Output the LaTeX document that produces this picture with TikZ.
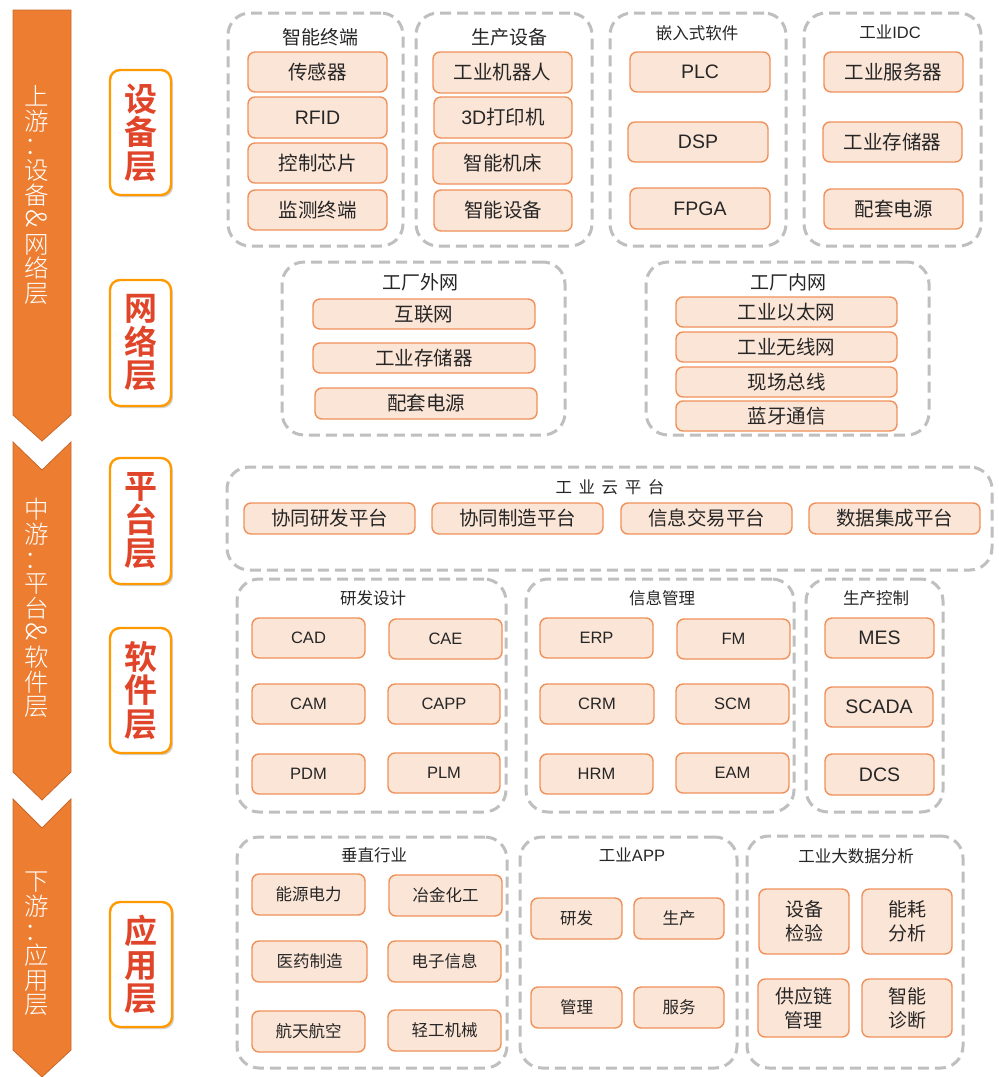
\documentclass[tikz,border=0pt]{standalone}
\usepackage{fontspec}
\setmainfont{Noto Sans CJK SC}
\newfontfamily\cjkbold{Noto Sans CJK SC Bold}
\newfontfamily\cjklight{Noto Sans CJK SC Light}
\newfontfamily\cjkspaced{Noto Sans CJK SC}[LetterSpace=40]
\newfontfamily\latinf{Liberation Sans}
\usepackage{graphicx}
\usetikzlibrary{shadows}
\definecolor{arroworange}{HTML}{ED7D31}
\definecolor{arrowedge}{HTML}{C9682A}
\definecolor{itemfill}{HTML}{FBE5D6}
\definecolor{itemedge}{HTML}{F0915A}
\definecolor{grpgray}{HTML}{BFBFBF}
\definecolor{lbledge}{HTML}{FF9A00}
\definecolor{lbltext}{HTML}{E0452A}
\definecolor{txt}{HTML}{262626}
\tikzset{
  grp/.style={draw=grpgray, line width=3pt, dash pattern=on 11pt off 6pt, rounded corners=22pt, inner sep=0pt},
  item/.style={draw=itemedge, fill=itemfill, line width=1.4pt, rounded corners=7pt, inner sep=0pt, text=txt, font=\fontsize{19.5}{21}\selectfont, align=center},
  itemsm/.style={item, font=\fontsize{16.5}{18}\selectfont},
  latin/.style={font=\latinf\fontsize{19.5}{21}\selectfont},
  latinsm/.style={font=\latinf\fontsize{16.5}{18}\selectfont},
  itemtwo/.style={item, font=\fontsize{19}{24}\selectfont},
  ttl/.style={text=txt, inner sep=0pt, font=\fontsize{19}{21}\selectfont},
  ttlsm/.style={text=txt, inner sep=0pt, font=\fontsize{16.5}{18}\selectfont},
  lbl/.style={draw=lbledge, fill=white, line width=2.4pt, rounded corners=10pt, inner sep=0pt, text=lbltext, align=center, font=\cjkbold\fontsize{33}{33.5}\selectfont, drop shadow={shadow xshift=2pt, shadow yshift=-2pt, opacity=0.35, fill=gray}},
  arr/.style={fill=arroworange, draw=arrowedge, line width=0.8pt},
  arrtxt/.style={text=white, inner sep=0pt, align=center, font=\cjklight\fontsize{24.5}{24.6}\selectfont}
}
\newcommand\amp{\rotatebox[origin=c]{-90}{\fontsize{28}{28}\selectfont\&}}
% style, name, x1, y1, x2, y2, text
\newcommand\bx[7]{\node[#1, minimum width={#5-#3}, minimum height={#6-#4}] (#2) at ({(#3+#5)/2},{(#4+#6)/2}) {#7};}
\begin{document}
\begin{tikzpicture}[x=1pt,y=-1pt]
\useasboundingbox (0,0) rectangle (999,1077);
\fill[white] (0,0) rectangle (999,1077);

% ---- left chevron arrows
\draw[arr] (13,10) -- (71,10) -- (71,415) -- (42,441) -- (13,415) -- cycle;
\draw[arr] (13,442) -- (42,470) -- (71,442) -- (71,772) -- (42,800) -- (13,772) -- cycle;
\draw[arr] (13,799) -- (42,828) -- (71,799) -- (71,1050) -- (42,1077) -- (13,1050) -- cycle;
\node[arrtxt] (t1) at (37,195) {上\\游\\：\\设\\备\\\amp\\网\\络\\层};
\node[arrtxt] (t2) at (37,608) {中\\游\\：\\平\\台\\\amp\\软\\件\\层};
\node[arrtxt] (t3) at (37,944) {下\\游\\：\\应\\用\\层};

% ---- layer labels
\bx{lbl}{L1}{110}{70}{171}{195}{设\\备\\层}
\bx{lbl}{L2}{110}{280}{171}{406}{网\\络\\层}
\bx{lbl}{L3}{110}{458}{171}{584}{平\\台\\层}
\bx{lbl}{L4}{110}{628}{171}{753}{软\\件\\层}
\bx{lbl}{L5}{110}{902}{172}{1027}{应\\用\\层}

% ---- row 1: devices
\bx{grp}{g11}{228}{13}{403}{246}{}
\node[ttl] (g11t) at (320,37) {智能终端};
\bx{item}{a1}{248}{52}{387}{92}{传感器}
\bx{item,latin}{a2}{248}{97}{387}{138}{RFID}
\bx{item}{a3}{248}{143}{387}{183}{控制芯片}
\bx{item}{a4}{248}{190}{387}{230}{监测终端}

\bx{grp}{g12}{416}{13}{592}{246}{}
\node[ttl] (g12t) at (509,37) {生产设备};
\bx{item}{b1}{433}{52}{572}{93}{工业机器人}
\bx{item}{b2}{434}{97}{572}{138}{{\latinf 3D}打印机}
\bx{item}{b3}{433}{143}{572}{184}{智能机床}
\bx{item}{b4}{434}{190}{572}{231}{智能设备}

\bx{grp}{g13}{610}{13}{786}{246}{}
\node[ttlsm] (g13t) at (697,33) {嵌入式软件};
\bx{item,latin}{c1}{630}{52}{770}{92}{PLC}
\bx{item,latin}{c2}{628}{122}{768}{162}{DSP}
\bx{item,latin}{c3}{630}{188}{770}{229}{FPGA}

\bx{grp}{g14}{804}{13}{981}{246}{}
\node[ttlsm] (g14t) at (890,32) {工业{\latinf IDC}};
\bx{item}{d1}{824}{52}{963}{92}{工业服务器}
\bx{item}{d2}{823}{122}{962}{162}{工业存储器}
\bx{item}{d3}{824}{189}{963}{229}{配套电源}

% ---- row 2: network
\bx{grp}{g21}{282}{262}{565}{435}{}
\node[ttl] (g21t) at (420,282) {工厂外网};
\bx{item}{e1}{313}{299}{535}{329}{\raisebox{-3pt}{互联网}}
\bx{item}{e2}{313}{343}{535}{373}{\raisebox{-3pt}{工业存储器}}
\bx{item}{e3}{315}{388}{537}{419}{\raisebox{-4pt}{配套电源}}

\bx{grp}{g22}{646}{262}{929}{435}{}
\node[ttl] (g22t) at (788,282) {工厂内网};
\bx{item}{f1}{676}{297}{897}{327}{\raisebox{-3pt}{工业以太网}}
\bx{item}{f2}{676}{332}{897}{362}{\raisebox{-3pt}{工业无线网}}
\bx{item}{f3}{676}{367}{897}{397}{\raisebox{-3pt}{现场总线}}
\bx{item}{f4}{676}{401}{897}{431}{\raisebox{-4pt}{蓝牙通信}}

% ---- row 3: platform
\bx{grp}{g3}{227}{467}{992}{570}{}
\node[ttlsm, font=\cjkspaced\fontsize{16.5}{18}\selectfont] (g3t) at (610,487) {工业云平台};
\bx{item}{p1}{244}{503}{415}{534}{\raisebox{-4pt}{协同研发平台}}
\bx{item}{p2}{432}{503}{603}{534}{\raisebox{-4pt}{协同制造平台}}
\bx{item}{p3}{621}{503}{792}{534}{\raisebox{-4pt}{信息交易平台}}
\bx{item}{p4}{809}{503}{980}{534}{\raisebox{-4pt}{数据集成平台}}

% ---- row 4: software
\bx{grp}{g41}{237}{579}{506}{812}{}
\node[ttlsm] (g41t) at (373,598) {研发设计};
\bx{item,latinsm}{s1}{252}{618}{365}{658}{CAD}
\bx{item,latinsm}{s2}{389}{619}{502}{659}{CAE}
\bx{item,latinsm}{s3}{252}{684}{365}{724}{CAM}
\bx{item,latinsm}{s4}{388}{684}{500}{724}{CAPP}
\bx{item,latinsm}{s5}{252}{754}{365}{794}{PDM}
\bx{item,latinsm}{s6}{388}{753}{500}{793}{PLM}

\bx{grp}{g42}{526}{579}{794}{812}{}
\node[ttlsm] (g42t) at (662,598) {信息管理};
\bx{item,latinsm}{m1}{540}{618}{653}{658}{ERP}
\bx{item,latinsm}{m2}{677}{619}{790}{659}{FM}
\bx{item,latinsm}{m3}{540}{684}{654}{724}{CRM}
\bx{item,latinsm}{m4}{676}{684}{789}{724}{SCM}
\bx{item,latinsm}{m5}{540}{754}{653}{794}{HRM}
\bx{item,latinsm}{m6}{676}{753}{789}{793}{EAM}

\bx{grp}{g43}{806}{579}{943}{812}{}
\node[ttlsm] (g43t) at (876,598) {生产控制};
\bx{item,latin}{k1}{825}{618}{934}{658}{MES}
\bx{item,latin}{k2}{825}{687}{933}{727}{SCADA}
\bx{item,latin}{k3}{825}{754}{934}{795}{DCS}

% ---- row 5: applications
\bx{grp}{g51}{237}{837}{507}{1068}{}
\node[ttlsm] (g51t) at (374,855) {垂直行业};
\bx{itemsm}{v1}{252}{874}{365}{915}{能源电力}
\bx{itemsm}{v2}{389}{875}{502}{916}{冶金化工}
\bx{itemsm}{v3}{252}{941}{367}{982}{医药制造}
\bx{itemsm}{v4}{388}{941}{501}{982}{电子信息}
\bx{itemsm}{v5}{252}{1011}{365}{1052}{航天航空}
\bx{itemsm}{v6}{388}{1010}{501}{1051}{轻工机械}

\bx{grp}{g52}{520}{837}{737}{1068}{}
\node[ttlsm] (g52t) at (632,855) {工业{\latinf APP}};
\bx{itemsm}{w1}{531}{898}{622}{939}{研发}
\bx{itemsm}{w2}{634}{898}{724}{939}{生产}
\bx{itemsm}{w3}{531}{987}{622}{1028}{管理}
\bx{itemsm}{w4}{634}{987}{724}{1028}{服务}

\bx{grp}{g53}{747}{836}{963}{1068}{}
\node[ttlsm] (g53t) at (856,856) {工业大数据分析};
\bx{itemtwo}{z1}{759}{889}{849}{954}{设备\\检验}
\bx{itemtwo}{z2}{862}{889}{952}{954}{能耗\\分析}
\bx{itemtwo}{z3}{758}{979}{849}{1037}{供应链\\管理}
\bx{itemtwo}{z4}{862}{979}{952}{1037}{智能\\诊断}
\end{tikzpicture}
\end{document}
